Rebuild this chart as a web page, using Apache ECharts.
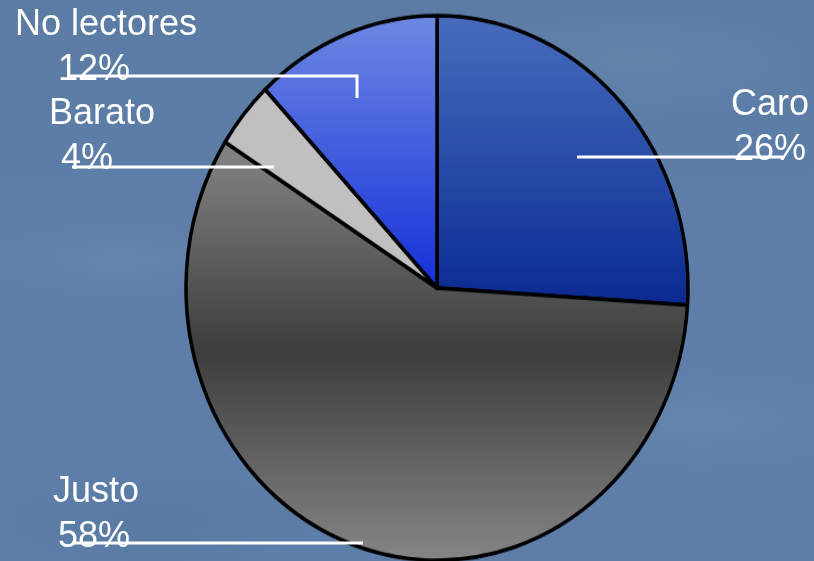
<!DOCTYPE html>
<html>
<head>
<meta charset="utf-8">
<script src="https://cdn.jsdelivr.net/npm/echarts@6/dist/echarts.min.js"></script>
<style>
  html, body { margin: 0; padding: 0; }
  body {
    width: 814px; height: 561px; overflow: hidden; position: relative;
    background-color: #5c7ea8;
    background-image:
      radial-gradient(ellipse 220px 60px at 120px 260px, rgba(255,255,255,0.05), rgba(255,255,255,0) 70%),
      radial-gradient(ellipse 260px 80px at 700px 420px, rgba(255,255,255,0.05), rgba(255,255,255,0) 70%),
      radial-gradient(ellipse 300px 90px at 640px 60px, rgba(255,255,255,0.05), rgba(255,255,255,0) 70%),
      radial-gradient(ellipse 240px 70px at 160px 520px, rgba(0,0,0,0.04), rgba(0,0,0,0) 70%),
      linear-gradient(180deg, rgba(90,110,140,0.15), rgba(0,0,0,0) 40%);
  }
  #pie, #labels { position: absolute; left: 0; top: 0; width: 814px; height: 561px; }
  /* the pie is drawn as an ellipse: taller than wide */
  #pie { transform: scaleY(1.085); transform-origin: 0 288px; }
</style>
</head>
<body>
<div id="pie"></div>
<div id="labels"></div>
<script>
// Price opinion shares (percent)
const categories = ['Caro', 'Justo', 'Barato', 'No lectores'];
const shares = [26, 58, 4, 12];

// Slice fills, top-to-bottom gradients
const sliceFills = [
  ['#486dbd', '#0a2a92'],
  ['#868686', '#3d3d3d', '#868686'],
  ['#c0c0c0', '#c0c0c0'],
  ['#6e89e3', '#1430d8']
];

function gradient(stops) {
  return {
    type: 'linear', x: 0, y: 0, x2: 0, y2: 1,
    colorStops: stops.map((c, i) => ({ offset: i / (stops.length - 1), color: c }))
  };
}

const pieData = categories.map((name, i) => ({
  name: name,
  value: shares[i],
  itemStyle: { color: gradient(sliceFills[i]) }
}));

const center = [437, 288];
const radius = 251;

// Label placement, leader lines and the left shift of the percent line
const labelPlacement = {
  'Caro':        { x: 770, y: 128, shift: 0,  line: [[577, 157], [783, 157]] },
  'Justo':       { x: 96,  y: 515, shift: 2,  line: [[363, 543], [72, 543]] },
  'Barato':      { x: 102, y: 137, shift: 15, line: [[274, 167], [72, 167]] },
  'No lectores': { x: 106, y: 48,  shift: 12, line: [[357, 98], [357, 76], [68, 76]] }
};

const font = {
  color: '#ffffff',
  fontFamily: 'Liberation Sans, Arial, sans-serif',
  fontSize: 36,
  lineHeight: 45
};

const pieChart = echarts.init(document.getElementById('pie'), null, { renderer: 'canvas' });
pieChart.setOption({
  animation: false,
  series: [{
    type: 'pie',
    center: center,
    radius: radius,
    startAngle: 90,
    clockwise: true,
    silent: true,
    label: { show: false },
    labelLine: { show: false },
    itemStyle: { borderColor: '#000000', borderWidth: 3.5 },
    data: pieData
  }]
});

const labelChart = echarts.init(document.getElementById('labels'), null, { renderer: 'canvas' });
labelChart.setOption({
  animation: false,
  series: [{
    type: 'pie',
    center: center,
    radius: radius,
    startAngle: 90,
    clockwise: true,
    silent: true,
    avoidLabelOverlap: false,
    itemStyle: { color: 'rgba(0,0,0,0)', borderWidth: 0 },
    labelLine: {
      show: true,
      smooth: false,
      lineStyle: { color: '#ffffff', width: 3 }
    },
    labelLayout: function (params) {
      const place = labelPlacement[categories[params.dataIndex]];
      return {
        x: place.x,
        y: place.y,
        align: 'center',
        verticalAlign: 'middle',
        labelLinePoints: place.line
      };
    },
    data: categories.map((name, i) => {
      const shift = labelPlacement[name].shift;
      return {
        name: name,
        value: shares[i],
        label: {
          show: true,
          position: 'outside',
          align: 'center',
          formatter: p => '{n|' + p.name + '}\n{v|' + p.value + '%}',
          ...font,
          rich: {
            n: { ...font },
            v: { ...font, padding: [0, shift * 2, 0, 0] }
          }
        }
      };
    })
  }]
});
</script>
</body>
</html>
